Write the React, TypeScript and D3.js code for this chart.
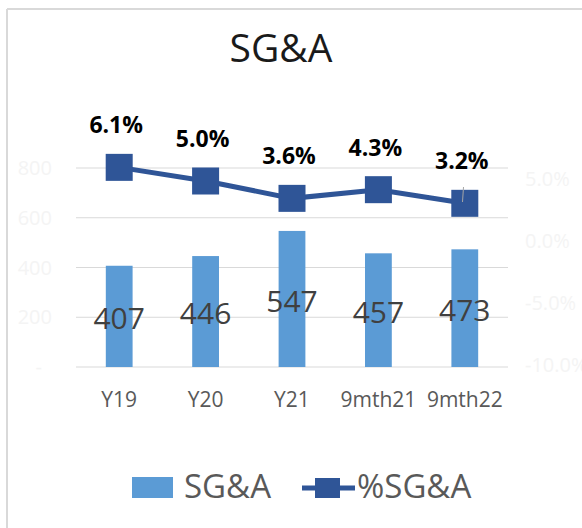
import React from "react";
import * as d3 from "d3";

const categories = ["Y19", "Y20", "Y21", "9mth21", "9mth22"];
const sgaValues = [407, 446, 547, 457, 473];
const pctValues = [6.1, 5.0, 3.6, 4.3, 3.2];
const leftTicks = [0, 200, 400, 600, 800];
const rightTicks = [-10, -5, 0, 5];

const W = 582;
const H = 528;
const FONT = "'Open Sans', 'Liberation Sans', sans-serif";
const BAR = "#5B9BD5";
const LINE = "#2F5597";

export default function App() {
  const x = d3.scaleBand<string>().domain(categories).range([76, 508]).paddingInner(0.69).paddingOuter(0.345);
  const yL = d3.scaleLinear().domain([0, 800]).range([367, 168]);
  const yR = d3.scaleLinear().domain([-10, 5]).range([367, 181]);
  const cx = (c: string) => (x(c) as number) + x.bandwidth() / 2;
  const lineGen = d3
    .line<number>()
    .x((_, i) => cx(categories[i]))
    .y((d) => yR(d));
  const ms = 27;

  return (
    <svg width={W} height={H} style={{ position: "absolute", left: 0, top: 0, background: "#fff" }} fontFamily={FONT}>
      <rect x={0} y={0} width={W} height={H} fill="#fff" />
      {/* frame */}
      <line x1={7} y1={9} x2={W} y2={9} stroke="#d9d9d9" strokeWidth={2} />
      <line x1={7} y1={9} x2={7} y2={H} stroke="#d9d9d9" strokeWidth={2} />
      {/* title */}
      <text x={281} y={62} textAnchor="middle" fontSize={39} fill="#1a1a1a">SG&amp;A</text>
      {/* gridlines */}
      {leftTicks.map((t) => (
        <line key={t} x1={76} x2={508} y1={yL(t)} y2={yL(t)} stroke="#d9d9d9" strokeWidth={1.2} />
      ))}
      {/* left axis labels */}
      {leftTicks.map((t) => (
        <text key={t} x={t === 0 ? 42 : 52} y={yL(t)} dy="0.35em" textAnchor="end" fontSize={20} fill="#f4f4f4">
          {t === 0 ? "-" : t}
        </text>
      ))}
      {/* right axis labels */}
      {rightTicks.map((t) => (
        <text key={t} x={525} y={yR(t) - 2} dy="0.35em" textAnchor="start" fontSize={20} fill="#f4f4f4">
          {t.toFixed(1) + "%"}
        </text>
      ))}
      {/* bars */}
      {sgaValues.map((v, i) => (
        <rect key={i} x={x(categories[i])} y={yL(v)} width={x.bandwidth()} height={yL(0) - yL(v)} fill={BAR} />
      ))}
      {/* bar labels */}
      {sgaValues.map((v, i) => (
        <text key={i} x={cx(categories[i])} y={(yL(v) + yL(0)) / 2 + 2} dy="0.36em" textAnchor="middle" fontSize={30} fill="#404040">
          {v}
        </text>
      ))}
      {/* category labels */}
      {categories.map((c) => (
        <text key={c} x={cx(c)} y={407} textAnchor="middle" fontSize={21} fill="#595959">
          {c}
        </text>
      ))}
      {/* line */}
      <path d={lineGen(pctValues) || ""} fill="none" stroke={LINE} strokeWidth={5} />
      {pctValues.map((v, i) => (
        <rect key={i} x={cx(categories[i]) - ms / 2} y={yR(v) - ms / 2} width={ms} height={ms} fill={LINE} />
      ))}
      {/* leader line */}
      <line x1={463.5} y1={187} x2={462.5} y2={202} stroke="#a6a6a6" strokeWidth={1} />
      {/* line labels */}
      {pctValues.map((v, i) => (
        <text key={i} x={cx(categories[i]) - 3} y={yR(v) - 34} textAnchor="middle" fontSize={23} fontWeight="bold" fill="#000">
          {v.toFixed(1) + "%"}
        </text>
      ))}
      {/* legend */}
      <rect x={132} y={477} width={41} height={21} fill={BAR} />
      <text x={184} y={498} fontSize={33} fill="#595959">SG&amp;A</text>
      <line x1={302} x2={355} y1={488} y2={488} stroke={LINE} strokeWidth={5} />
      <rect x={315} y={478} width={25} height={20} fill={LINE} />
      <text x={357} y={498} fontSize={33} fill="#595959">%SG&amp;A</text>
    </svg>
  );
}
